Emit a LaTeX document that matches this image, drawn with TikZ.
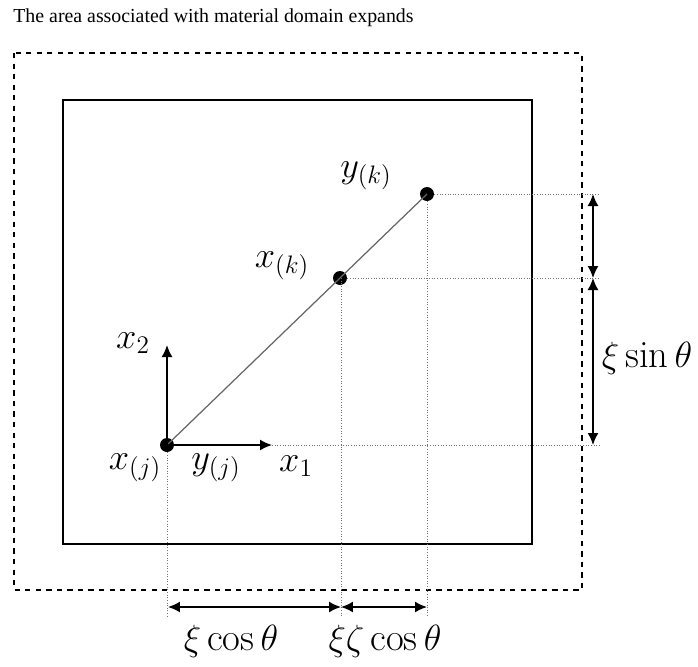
\documentclass[tikz,border=0pt]{standalone}
\usepackage{fontspec}
\newfontfamily\titlefont{Liberation Serif}
\usetikzlibrary{arrows.meta}
\tikzset{
  dot/.style={circle,fill=black,inner sep=0pt,minimum size=0.28cm},
  guide/.style={densely dotted,black!55,line width=0.5pt},
  dimarrow/.style={{Latex[length=0.24cm,width=0.22cm]}-{Latex[length=0.24cm,width=0.22cm]},line width=0.9pt},
  axis/.style={-{Latex[length=0.24cm,width=0.22cm]},line width=0.9pt},
  lbl/.style={font=\fontsize{20}{23}\selectfont,inner sep=0pt}
}
\begin{document}
\begin{tikzpicture}[x=0.02cm,y=-0.02cm]
    \useasboundingbox (0,0) rectangle (698,667);

    % Title
    \node[anchor=base west,inner sep=0pt] (title) at (13,22) {\titlefont\fontsize{11.3}{13}\selectfont The area associated with material domain expands};

    % Domains
    \draw[dashed,line width=0.6pt] (14,53) rectangle (582,590);
    \draw[line width=0.8pt] (63,100) rectangle (532,544);

    % Points
    \node[dot] (xj) at (167,445) {};
    \node[dot] (xk) at (340,278) {};
    \node[dot] (yk) at (427,194) {};
    \draw[black!60,line width=0.7pt] (xj.center) -- (yk.center);

    % Local axes
    \coordinate (x2tip) at (167,345);
    \coordinate (x1tip) at (272,445);
    \draw[axis] (xj.center) -- (x2tip);
    \draw[axis] (xj.center) -- (x1tip);

    % Guide lines
    \coordinate (rgt) at (600,0);
    \coordinate (bot) at (0,617);
    \draw[guide] (yk) -- (yk -| rgt);
    \draw[guide] (xk) -- (xk -| rgt);
    \draw[guide] (x1tip) -- (x1tip -| rgt);
    \draw[guide] (xj) -- (xj |- bot);
    \draw[guide] (xk.center) ++(1,0) -- (341,617);
    \draw[guide] (yk) -- (yk |- bot);

    % Dimensions
    \coordinate (r1) at (593,194);
    \coordinate (r2) at (593,278);
    \coordinate (r3) at (593,445);
    \coordinate (b1) at (168,607);
    \coordinate (b2) at (341,607);
    \coordinate (b3) at (427,607);
    \draw[dimarrow] (r1) -- (r2);
    \draw[dimarrow] (r2) -- (r3);
    \draw[dimarrow] (b1) -- (b2);
    \draw[dimarrow] (b2) -- (b3);

    % Labels
    \node[lbl] (lx2) at (133,343) {$x_2$};
    \node[lbl] (lxj) at (135,468) {$x_{(j)}$};
    \node[lbl] (lyj) at (216,468) {$y_{(j)}$};
    \node[lbl] (lx1) at (296,466) {$x_1$};
    \node[lbl] (lxk) at (282,266) {$x_{(k)}$};
    \node[lbl] (lyk) at (366,176) {$y_{(k)}$};
    \node[lbl,font=\fontsize{22}{25}\selectfont] (lsin) at (647,358) {$\xi\sin\theta$};
    \node[lbl,font=\fontsize{22}{25}\selectfont] (lcos) at (231,641) {$\xi\cos\theta$};
    \node[lbl,font=\fontsize{22}{25}\selectfont] (lcos2) at (385,641) {$\xi\zeta\cos\theta$};
\end{tikzpicture}
\end{document}
